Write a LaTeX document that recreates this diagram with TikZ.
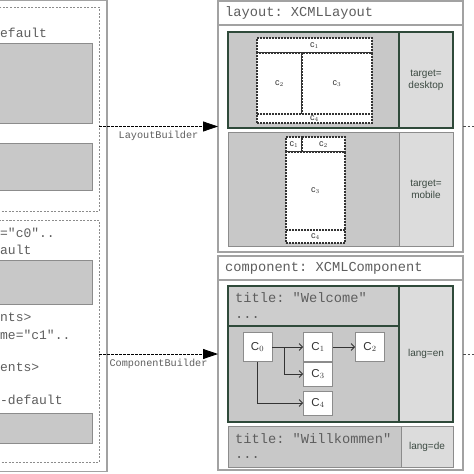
\documentclass[tikz,border=0pt]{standalone}
\usepackage{fontspec}
\setmainfont{Liberation Sans}
\setsansfont{Liberation Sans}
\setmonofont{Liberation Mono}
\usetikzlibrary{arrows.meta,positioning}

\definecolor{panelgrey}{HTML}{A2A2A2}
\definecolor{darkframe}{HTML}{2F4A3A}
\definecolor{midframe}{HTML}{8C8C8C}
\definecolor{fillgrey}{HTML}{C8C8C8}
\definecolor{lightgrey}{HTML}{DCDCDC}
\definecolor{codegrey}{HTML}{5E5E5E}
\definecolor{labelgrey}{HTML}{3C4A42}

\newcommand{\codefont}{\ttfamily\fontsize{13.7}{16}\selectfont}
\newcommand{\srcfont}{\ttfamily\fontsize{13}{15}\selectfont}
\newcommand{\builderfont}{\ttfamily\fontsize{10.2}{12}\selectfont}

\tikzset{
  rect/.style={inner sep=0pt, outer sep=0pt, anchor=north west},
  panel/.style={rect, draw=panelgrey, line width=1.2pt, fill=white},
  srcbox/.style={rect, draw=midframe, line width=0.8pt, dash pattern=on 2pt off 1.5pt},
  greyrect/.style={rect, draw=midframe, line width=0.8pt, fill=fillgrey},
  variant/.style={rect, draw=darkframe, line width=1.3pt, fill=fillgrey},
  plainvariant/.style={rect, draw=midframe, line width=1pt, fill=fillgrey},
  selector/.style={rect, fill=lightgrey, font=\fontsize{10}{12}\selectfont,
    text=labelgrey, align=center},
  region/.style={rect, draw=black!80, line width=1.2pt, dash pattern=on 2pt off 1pt,
    fill=white, font=\fontsize{9}{10}\selectfont, text=black!80},
  code/.style={anchor=west, inner sep=0pt, font=\codefont, text=codegrey},
  src/.style={anchor=west, inner sep=0pt, font=\srcfont, text=codegrey},
  cbox/.style={draw=midframe, line width=0.8pt, fill=white, minimum width=29pt,
    inner sep=0pt, font=\fontsize{11.5}{12}\selectfont, text=black!80},
  flow/.style={draw=black!80, line width=0.8pt, -{Straight Barb[length=3.5pt,width=7pt]}},
  builder/.style={draw=black, line width=0.8pt, dash pattern=on 2.5pt off 1.5pt,
    -{Triangle[length=15pt,width=10pt]}},
  stub/.style={draw=black!70, line width=0.8pt, dash pattern=on 2.5pt off 2pt}
}

\begin{document}
\begin{tikzpicture}[x=1pt, y=-1pt]
\useasboundingbox (0,0) rectangle (474,474);
\clip (0,0) rectangle (474,474);

% source model (cut at the left edge)
\node[panel, minimum width=110pt, minimum height=471pt] (model) at (-3,0.5) {};
\node[srcbox, minimum width=101pt, minimum height=204pt] (lsrc) at (-2,7) {};
\node[srcbox, minimum width=101pt, minimum height=242pt] (csrc) at (-2,220) {};

\node[src] (l1) at (0,33) {efault};
\node[greyrect, minimum width=94pt, minimum height=80pt] (g1) at (-2,43) {};
\node[greyrect, minimum width=94pt, minimum height=47pt] (g2) at (-2,143) {};

\node[src] (l2) at (0,233) {="c0"..};
\node[src] (l3) at (0,250) {ault};
\node[greyrect, minimum width=94pt, minimum height=44pt] (g3) at (-2,260) {};
\node[src] (l4) at (0,317) {nts>};
\node[src] (l5) at (0,335) {me="c1"..};
\node[src] (l6) at (0,367) {ents>};
\node[src] (l7) at (0,400) {-default};
\node[greyrect, minimum width=94pt, minimum height=30pt] (g4) at (-2,413) {};

% layout panel
\node[panel, minimum width=245pt, minimum height=251pt] (layout) at (218,1) {};
\node[panel, minimum width=245pt, minimum height=24pt] (layouthead) at (218,1) {};
\node[code] (layouttitle) at (225,13) {layout: XCMLLayout};

% desktop variant
\node[variant, minimum width=225pt, minimum height=96pt] (desk) at (228,32) {};
\node[selector, minimum width=54pt, minimum height=96pt] (desktarget) at (399,32) {target=\\desktop};
\draw[draw=darkframe, line width=1.3pt] (desk.north west) rectangle (desk.south east);
\draw[draw=darkframe, line width=1.3pt] (desktarget.north west) -- (desktarget.south west);
\node[region, minimum width=115pt, minimum height=15pt] (dc1) at (257,38) {c$_1$};
\node[region, minimum width=45pt, minimum height=61pt] (dc2) at (257,53) {c$_2$};
\node[region, minimum width=70pt, minimum height=61pt] (dc3) at (302,53) {c$_3$};
\node[region, minimum width=115pt, minimum height=9pt] (dc4) at (257,114) {c$_4$};

% mobile variant
\node[plainvariant, minimum width=225pt, minimum height=114pt] (mob) at (228,132) {};
\node[selector, minimum width=54pt, minimum height=114pt] (mobtarget) at (399,132) {target=\\mobile};
\draw[draw=midframe, line width=1pt] (mob.north west) rectangle (mob.south east);
\draw[draw=midframe, line width=1pt] (mobtarget.north west) -- (mobtarget.south west);
\node[region, minimum width=16pt, minimum height=15pt] (mc1) at (286,137) {c$_1$};
\node[region, minimum width=43pt, minimum height=15pt] (mc2) at (302,137) {c$_2$};
\node[region, minimum width=59pt, minimum height=78pt] (mc3) at (286,152) {c$_3$};
\node[region, minimum width=59pt, minimum height=13pt] (mc4) at (286,230) {c$_4$};

% component panel
\node[panel, minimum width=245pt, minimum height=214pt] (component) at (218,256) {};
\node[panel, minimum width=245pt, minimum height=24pt] (componenthead) at (218,256) {};
\node[code] (componenttitle) at (225,268) {component: XCMLComponent};

% english variant
\node[variant, minimum width=225pt, minimum height=136pt] (en) at (228,286) {};
\node[selector, minimum width=54pt, minimum height=136pt] (entarget) at (399,286) {lang=en};
\node[rect, draw=darkframe, line width=1.3pt, fill=fillgrey!90!white,
  minimum width=171pt, minimum height=40pt] (enhead) at (228,286) {};
\draw[draw=darkframe, line width=1.3pt] (en.north west) rectangle (en.south east);
\draw[draw=darkframe, line width=1.3pt] (entarget.north west) -- (entarget.south west);
\node[code] (entitle) at (235,298) {title: "Welcome"};
\node[code] (endots) at (235,317) {...};

\node[cbox, minimum height=29pt] (C0) at (257.5,347) {C$_0$};
\node[cbox, minimum height=29pt] (C1) at (318,347) {C$_1$};
\node[cbox, minimum height=29pt] (C2) at (370,347) {C$_2$};
\node[cbox, minimum height=24pt] (C3) at (318,374) {C$_3$};
\node[cbox, minimum height=24pt] (C4) at (318,403) {C$_4$};
\coordinate (split) at (284,347);

\draw[flow] (C0) -- (C1);
\draw[flow] (C1) -- (C2);
\draw[flow] (split) |- (C3);
\draw[flow] (C0) |- (C4);

% german variant
\node[plainvariant, minimum width=225pt, minimum height=41pt] (de) at (228,426) {};
\node[selector, minimum width=52pt, minimum height=41pt] (detarget) at (401,426) {lang=de};
\draw[draw=midframe, line width=1pt] (de.north west) rectangle (de.south east);
\draw[draw=midframe, line width=1pt] (detarget.north west) -- (detarget.south west);
\node[code] (detitle) at (235,439) {title: "Willkommen"};
\node[code] (dedots) at (235,457) {...};

% builders
\draw[builder] (lsrc.east |- layout.west) -- (layout.west)
  node[midway, below=1pt, font=\builderfont, text=codegrey] {LayoutBuilder};
\draw[builder] (csrc.east |- en.west) -- (component.west |- en.west)
  node[midway, below=1pt, font=\builderfont, text=codegrey] {ComponentBuilder};
\draw[stub] (layout.east) -- ++(11,0);
\draw[stub] (component.east |- en.east) -- ++(11,0);

\end{tikzpicture}
\end{document}
